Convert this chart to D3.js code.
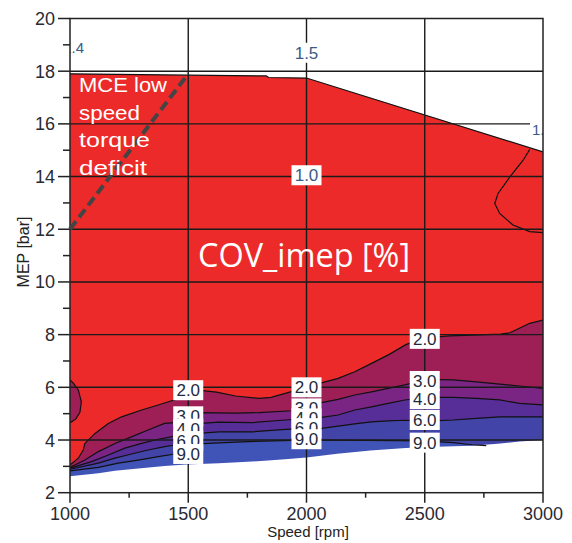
<!DOCTYPE html>
<html>
<head>
<meta charset="utf-8">
<script src="https://cdn.jsdelivr.net/npm/d3@7"></script>
<style>
  body { margin: 0; background: #fff; }
  text { font-family: "Liberation Sans", Arial, sans-serif; }
</style>
</head>
<body>
<div id="chart"></div>
<script>
// axis ticks
const speedTicks = [1000, 1500, 2000, 2500, 3000];
const speedMinor = [1250, 1750, 2250, 2750];
const mepTicks = [2, 4, 6, 8, 10, 12, 14, 16, 18, 20];
const mepMinor = [3, 5, 7, 9, 11, 13, 15, 17, 19];

// [speed, MEP] outlines of the map
const topEdge = [[1000, 17.9], [1500, 17.85], [1830, 17.82], [1840, 17.76], [2000, 17.74], [3000, 14.94]];
const bottomEdge = [[1000, 2.62], [1050, 2.67], [1120, 2.74], [1190, 2.83], [1300, 2.93], [1400, 3.01],
  [1490, 3.07], [1630, 3.12], [1770, 3.18], [1910, 3.27], [2000, 3.34], [2130, 3.48], [2270, 3.6],
  [2420, 3.7], [2550, 3.74], [2700, 3.78], [2820, 3.87], [2900, 3.94], [3000, 4.0]];

// contour lines of COV_imep
const cov2 = [[1000, 3.05], [1035, 3.31], [1056, 3.62], [1063, 3.87], [1106, 4.25], [1162, 4.63], [1218, 4.88],
  [1303, 5.14], [1373, 5.33], [1430, 5.49], [1486, 5.62], [1550, 5.88], [1620, 5.82], [1700, 5.67],
  [1800, 5.58], [1850, 5.62], [1910, 5.77], [2000, 6.0], [2063, 6.17], [2134, 6.34], [2204, 6.59],
  [2275, 6.91], [2350, 7.25], [2420, 7.62], [2500, 7.88], [2606, 7.95], [2700, 7.98], [2820, 8.02],
  [2860, 8.07], [2900, 8.24], [2944, 8.43], [3000, 8.55]];
const cov2Bubble = [[1000, 6.28], [1015, 6.15], [1035, 5.9], [1048, 5.45], [1042, 5.05], [1025, 4.8], [1005, 4.68], [1000, 4.68]];
const cov3 = [[1000, 2.96], [1063, 3.24], [1120, 3.56], [1190, 3.87], [1260, 4.12], [1330, 4.38], [1400, 4.63],
  [1443, 4.66], [1543, 5.04], [1700, 5.02], [1800, 5.04], [1937, 5.11], [2063, 5.42], [2134, 5.54],
  [2204, 5.71], [2275, 5.83], [2345, 5.96], [2416, 6.09], [2507, 6.3], [2620, 6.28], [2719, 6.21],
  [2817, 6.12], [2901, 6.05], [3000, 5.96]];
const cov4 = [[1000, 2.93], [1091, 3.18], [1162, 3.43], [1232, 3.69], [1303, 3.87], [1373, 4.03], [1443, 4.15],
  [1540, 4.62], [1630, 4.68], [1770, 4.66], [1910, 4.76], [2063, 4.86], [2134, 4.95], [2204, 5.14],
  [2275, 5.26], [2345, 5.39], [2416, 5.52], [2507, 5.62], [2620, 5.62], [2719, 5.58], [2817, 5.52],
  [2901, 5.39], [3000, 5.33]];
const cov6 = [[1000, 2.89], [1120, 3.12], [1190, 3.31], [1260, 3.47], [1330, 3.62], [1400, 3.75], [1443, 3.81],
  [1540, 4.25], [1630, 4.31], [1770, 4.31], [1910, 4.4], [2063, 4.44], [2134, 4.53], [2204, 4.61],
  [2275, 4.69], [2345, 4.73], [2416, 4.75], [2507, 4.72], [2620, 4.76], [2719, 4.82], [2817, 4.88], [3000, 4.88]];
const cov9 = [[1000, 2.83], [1120, 2.96], [1204, 3.12], [1289, 3.24], [1373, 3.37], [1443, 3.47], [1540, 3.85],
  [1700, 3.92], [1900, 3.98], [2000, 4.0], [2500, 3.97], [2620, 3.9], [2700, 3.82], [2760, 3.79]];
const cov1 = [[2944, 15.03], [2916, 14.62], [2860, 13.99], [2810, 13.36], [2796, 12.98], [2817, 12.6],
  [2873, 12.16], [2944, 11.91], [3000, 11.87]];

// contour labels: text, speed, MEP
const labelText = ["2.0", "3.0", "4.0", "6.0", "9.0", "2.0", "3.0", "4.0", "6.0", "9.0",
  "2.0", "3.0", "4.0", "6.0", "9.0", "1.0", "1.5"];
const labelSpeed = [1500, 1500, 1500, 1500, 1500, 2000, 2000, 2000, 2000, 2000,
  2500, 2500, 2500, 2500, 2500, 2000, 2000];
const labelMep = [5.89, 4.9, 4.43, 3.96, 3.47, 6.0, 5.2, 4.82, 4.45, 4.03,
  7.84, 6.24, 5.55, 4.76, 3.9, 14.05, 18.7];

const dashLine = [[1000, 12], [1500, 17.9]];
const noteLines = ["MCE low", "speed", "torque", "deficit"];
const noteWidths = [88, 61, 71, 68];

const W = 572, H = 543;
const x = d3.scaleLinear().domain([1000, 3000]).range([70, 543]);
const y = d3.scaleLinear().domain([2, 20]).range([492.7, 18.5]);

const svg = d3.select('#chart').append('svg')
  .attr('width', W).attr('height', H)
  .style('display', 'block');

svg.append('defs').append('clipPath').attr('id', 'plot')
  .append('rect')
  .attr('x', x(1000)).attr('y', y(20))
  .attr('width', x(3000) - x(1000)).attr('height', y(2) - y(20));

const area = d3.area().x(d => x(d[0])).y0(y(2)).y1(d => y(d[1]));
const line = d3.line().x(d => x(d[0])).y(d => y(d[1]));

const plot = svg.append('g').attr('clip-path', 'url(#plot)');

// filled bands
plot.append('path').attr('d', area(topEdge)).attr('fill', '#ec2a2a');
const bands = [[cov2, '#9e1f56'], [cov3, '#7a2484'], [cov4, '#572e98'], [cov6, '#4244a8'], [cov9, '#4054b8']];
bands.forEach(([pts, col]) => {
  plot.append('path').attr('d', area(pts)).attr('fill', col);
});
plot.append('path').attr('d', line(cov2Bubble) + 'Z').attr('fill', '#9e1f56');
plot.append('path').attr('d', area(bottomEdge)).attr('fill', '#fff');

// contour lines
[topEdge, cov2, cov2Bubble, cov3, cov4, cov6, cov9, cov1].forEach(pts => {
  plot.append('path').attr('d', line(pts))
    .attr('fill', 'none').attr('stroke', '#111').attr('stroke-width', 1.2);
});

// grid
const grid = svg.append('g').attr('stroke', '#1a1a1a').attr('stroke-width', 1.4);
speedTicks.slice(1, -1).forEach(s => {
  grid.append('line').attr('x1', x(s)).attr('x2', x(s)).attr('y1', y(20)).attr('y2', y(2));
});
mepTicks.slice(1, -1).forEach(m => {
  grid.append('line').attr('x1', x(1000)).attr('x2', x(3000)).attr('y1', y(m)).attr('y2', y(m));
});

// contour labels with white boxes, drawn over the grid
const labels = svg.append('g').attr('clip-path', 'url(#plot)');
labelText.forEach((t, i) => {
  const cx = x(labelSpeed[i]), cy = y(labelMep[i]);
  labels.append('rect')
    .attr('x', cx - 15).attr('y', cy - 10).attr('width', 30).attr('height', 20)
    .attr('fill', '#fff');
  labels.append('text')
    .attr('x', cx).attr('y', cy + 6)
    .attr('text-anchor', 'middle')
    .style('font-size', '17px')
    .attr('fill', i >= 15 ? '#3b5a86' : '#1e2a3c')
    .text(t);
});
// clipped labels at the top corners
labels.append('text').attr('x', 84).attr('y', 53)
  .attr('text-anchor', 'end').style('font-size', '15px').attr('fill', '#3b5a86').text('1.4');
labels.append('rect').attr('x', 530).attr('y', 120).attr('width', 14).attr('height', 18).attr('fill', '#fff');
labels.append('text').attr('x', 532).attr('y', 135)
  .style('font-size', '15px').attr('fill', '#3b5a86').text('1.5');

// frame and ticks
const ax = svg.append('g').attr('stroke', '#222').attr('stroke-width', 1.5);
ax.append('rect')
  .attr('x', x(1000)).attr('y', y(20))
  .attr('width', x(3000) - x(1000)).attr('height', y(2) - y(20))
  .attr('fill', 'none');
mepTicks.forEach(m => ax.append('line').attr('x1', 58).attr('x2', x(1000)).attr('y1', y(m)).attr('y2', y(m)));
mepMinor.forEach(m => ax.append('line').attr('x1', 63).attr('x2', x(1000)).attr('y1', y(m)).attr('y2', y(m)));
speedTicks.forEach(s => ax.append('line').attr('x1', x(s)).attr('x2', x(s)).attr('y1', y(2)).attr('y2', y(2) + 10));
speedMinor.forEach(s => ax.append('line').attr('x1', x(s)).attr('x2', x(s)).attr('y1', y(2)).attr('y2', y(2) + 5));

svg.append('g').selectAll('text').data(mepTicks).join('text')
  .attr('x', 55).attr('y', d => y(d) + 6.5)
  .attr('text-anchor', 'end')
  .style('font-size', '18px').attr('fill', '#2a2a33')
  .text(d => d);
svg.append('g').selectAll('text').data(speedTicks).join('text')
  .attr('x', d => x(d)).attr('y', 520)
  .attr('text-anchor', 'middle')
  .style('font-size', '18px').attr('fill', '#2a2a33')
  .text(d => d);

svg.append('text')
  .attr('transform', 'translate(29,252) rotate(-90)')
  .attr('text-anchor', 'middle')
  .style('font-size', '16px').attr('fill', '#222')
  .text('MEP [bar]');
svg.append('text')
  .attr('x', 308).attr('y', 537)
  .attr('text-anchor', 'middle')
  .style('font-size', '15px').attr('fill', '#222')
  .text('Speed [rpm]');

// annotations
svg.append('path').attr('d', line(dashLine))
  .attr('stroke', '#444').attr('stroke-width', 4).attr('stroke-dasharray', '10,5').attr('fill', 'none');

const note = svg.append('g')
  .style('font-family', '"DejaVu Sans", sans-serif')
  .style('font-size', '20px').attr('fill', '#fff');
noteLines.forEach((t, i) => {
  note.append('text')
    .attr('x', 79).attr('y', 91.7 + i * 27.8)
    .attr('textLength', noteWidths[i]).attr('lengthAdjust', 'spacingAndGlyphs')
    .text(t);
});

svg.append('text')
  .attr('x', 198).attr('y', 267)
  .attr('textLength', 212).attr('lengthAdjust', 'spacingAndGlyphs')
  .style('font-family', '"Open Sans", sans-serif')
  .style('font-size', '32px').attr('fill', '#fff')
  .text('COV_imep [%]');
</script>
</body>
</html>
